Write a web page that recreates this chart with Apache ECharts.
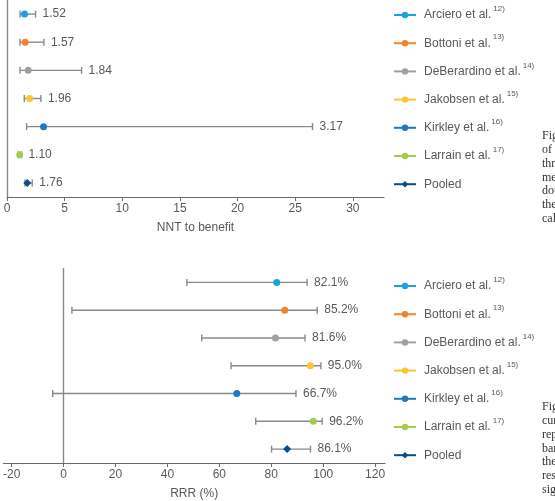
<!DOCTYPE html>
<html>
<head>
<meta charset="utf-8">
<script src="https://cdn.jsdelivr.net/npm/echarts@6/dist/echarts.min.js"></script>
<style>
html, body { margin: 0; padding: 0; background: #fff; }
#chart { width: 555px; height: 501px; }
</style>
</head>
<body>
<div id="chart"></div>
<script>
var studies = ["Arciero et al.", "Bottoni et al.", "DeBerardino et al.", "Jakobsen et al.", "Kirkley et al.", "Larrain et al.", "Pooled"];
var refs = ["12)", "13)", "14)", "15)", "16)", "17)", ""];
var colors = ["#1ba1dc", "#f5822f", "#a0a0a0", "#fcc42d", "#1f78c1", "#a3cc4c", "#0c4a8a"];

// NNT to benefit (top)
var nntPoint = [1.52, 1.57, 1.84, 1.96, 3.17, 1.10, 1.76];
var nntLow = [1.13, 1.13, 1.13, 1.50, 1.70, 0.98, 1.56];
var nntHigh = [2.48, 3.20, 6.47, 2.94, 26.5, 1.25, 2.19];
var nntTicks = [0, 5, 10, 15, 20, 25, 30];

// RRR % (bottom)
var rrrPoint = [82.1, 85.2, 81.6, 95.0, 66.7, 96.2, 86.1];
var rrrLow = [47.5, 3.2, 53.2, 64.5, -4.2, 74.0, 80.1];
var rrrHigh = [93.8, 97.7, 93.0, 99.1, 89.5, 99.6, 95.1];
var rrrTicks = [-20, 0, 20, 40, 60, 80, 100, 120];

var font = "Liberation Sans";
var txt = "#595959";

function errData(low, high) {
    return studies.map(function (s, i) {
        return [i, low[i], high[i]];
    });
}

function makeRender(labels) {
    return function (params, api) {
        var i = api.value(0);
        var y = api.coord([0, i])[1];
        var x1 = api.coord([api.value(1), 0])[0];
        var x2 = api.coord([api.value(2), 0])[0];
        var st = { stroke: "#8a8a8a", lineWidth: 1.4 };
        return {
            type: "group",
            children: [
                { type: "line", shape: { x1: x1, y1: y, x2: x2, y2: y }, style: st },
                { type: "line", shape: { x1: x1, y1: y - 3.5, x2: x1, y2: y + 3.5 }, style: st },
                { type: "line", shape: { x1: x2, y1: y - 3.5, x2: x2, y2: y + 3.5 }, style: st },
                { type: "text", x: x2 + 7, y: y, style: {
                    text: labels[i], fill: txt, fontSize: 12, fontFamily: font,
                    verticalAlign: "middle", align: "left" } }
            ]
        };
    };
}

function pointSeries(values, axisIdx) {
    return studies.map(function (s, i) {
        return {
            name: s,
            type: "line",
            xAxisIndex: axisIdx,
            yAxisIndex: axisIdx,
            symbol: i === 6 ? "diamond" : "circle",
            symbolSize: i === 6 ? 8 : 7,
            itemStyle: { color: colors[i] },
            lineStyle: { color: colors[i], width: 1.5 },
            z: 5,
            data: [[values[i], s]]
        };
    });
}

function legend(top) {
    return {
        orient: "vertical",
        left: 393,
        top: top,
        padding: 0,
        itemWidth: 22,
        itemHeight: 8,
        itemGap: 12.2,
        data: studies,
        selectedMode: false,
        formatter: function (name) {
            var r = refs[studies.indexOf(name)];
            return "{n|" + name + "}{s|" + (r || " ") + "}";
        },
        textStyle: {
            rich: {
                n: { fontSize: 12, color: txt, fontFamily: font, lineHeight: 20, padding: [0, 0, 0, 3] },
                s: { fontSize: 8, color: txt, fontFamily: font, verticalAlign: "top", lineHeight: 8, padding: [0, 0, 0, 2] }
            }
        }
    };
}

function xAxis(idx, min, max, ticks, name) {
    return {
        type: "value",
        gridIndex: idx,
        min: min,
        max: max,
        name: name,
        nameLocation: "middle",
        nameGap: 25,
        nameTextStyle: { color: txt, fontSize: 12, fontFamily: font },
        splitLine: { show: false },
        axisLine: { show: true, lineStyle: { color: "#6a6a6a", width: 1.2 } },
        axisTick: { show: true, length: 4, customValues: ticks, lineStyle: { color: "#6a6a6a" } },
        axisLabel: { color: txt, fontSize: 12, fontFamily: font, margin: 6, customValues: ticks }
    };
}

function yAxis(idx) {
    return {
        type: "category",
        gridIndex: idx,
        data: studies,
        inverse: true,
        axisLine: { show: true, onZero: true, lineStyle: { color: "#8a8a8a", width: 1.4 } },
        axisTick: { show: false },
        axisLabel: { show: false }
    };
}

var captionTop = ["Fig.", "of t", "thre", "met", "dou", "the", "calc"];
var captionBottom = ["Fig.", "cur", "repo", "bar", "the", "resu", "sign"];
var graphics = [];
captionTop.forEach(function (t, i) {
    graphics.push({ type: "text", left: 542, top: 130 + i * 13.8,
        style: { text: t, fill: "#333", fontSize: 12, fontFamily: "Liberation Serif" } });
});
captionBottom.forEach(function (t, i) {
    graphics.push({ type: "text", left: 542, top: 401 + i * 13.8,
        style: { text: t, fill: "#333", fontSize: 12, fontFamily: "Liberation Serif" } });
});

var option = {
    animation: false,
    backgroundColor: "#fff",
    grid: [
        { left: 7, top: 0, width: 377, height: 197 },
        { left: 3, top: 268.5, width: 382, height: 198.5 }
    ],
    xAxis: [
        xAxis(0, 0, 32.7, nntTicks, "NNT to benefit"),
        xAxis(1, -23.2, 123.8, rrrTicks, "RRR (%)")
    ],
    yAxis: [yAxis(0), yAxis(1)],
    legend: [legend(5), legend(276)],
    graphic: graphics,
    series: [
        {
            type: "custom",
            xAxisIndex: 0, yAxisIndex: 0,
            renderItem: makeRender(nntPoint.map(function (v) { return v.toFixed(2); })),
            encode: { x: [1, 2], y: 0 },
            data: errData(nntLow, nntHigh),
            z: 2
        },
        {
            type: "custom",
            xAxisIndex: 1, yAxisIndex: 1,
            renderItem: makeRender(rrrPoint.map(function (v) { return v.toFixed(1) + "%"; })),
            encode: { x: [1, 2], y: 0 },
            data: errData(rrrLow, rrrHigh),
            z: 2
        }
    ].concat(pointSeries(nntPoint, 0)).concat(pointSeries(rrrPoint, 1))
};

echarts.init(document.getElementById("chart")).setOption(option);
</script>
</body>
</html>
